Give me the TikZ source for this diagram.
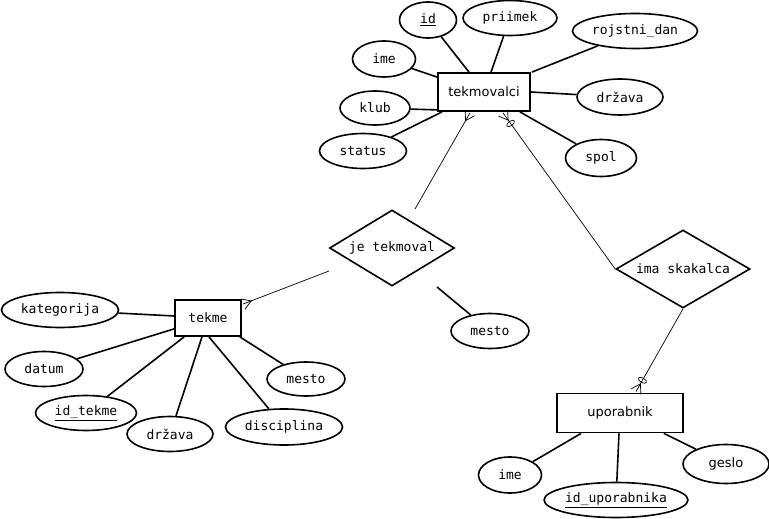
\documentclass[tikz,border=0pt]{standalone}
\usepackage{fontspec}
\setmainfont{DejaVu Sans}
\newfontfamily\monof{DejaVu Sans Mono}
\usetikzlibrary{shapes.geometric,calc}
\newcommand\crowft[2]{\draw[cline] ($(#1)!5.5pt!90:(#2)$) -- ($(#1)!9pt!(#2)$) -- ($(#1)!5.5pt!-90:(#2)$);}
\newcommand\zeroring[2]{\path let \p1=($(#2)-(#1)$), \n1={atan2(\y1,\x1)} in ($(#1)!13pt!(#2)$) node[draw, ellipse, line width=0.7pt, minimum width=4.5pt, minimum height=9pt, rotate=\n1] {};}
\begin{document}
\begin{tikzpicture}[x=1pt,y=-1pt,
  every node/.style={font=\fontsize{13}{15}\selectfont\monof, inner sep=0pt},
  attr/.style={ellipse, draw, line width=1.6pt},
  ent/.style={rectangle, draw, line width=1.8pt},
  rel/.style={diamond, draw, line width=1.6pt, aspect=1.65},
  aline/.style={line width=1.6pt},
  cline/.style={line width=0.7pt}
]
\useasboundingbox (0,0) rectangle (769,519);
% tekmovalci
\node[ent, minimum width=92pt, minimum height=38pt, font=\fontsize{13}{15}\selectfont\rmfamily] (tek) at (484,92) {tekmovalci};
\node[attr, minimum width=57pt, minimum height=36pt] (tid) at (428,20) {\underline{id}};
\node[attr, minimum width=94pt, minimum height=35pt] (tpri) at (510,18) {priimek};
\node[attr, minimum width=125pt, minimum height=35pt] (troj) at (635,31) {rojstni\_dan};
\node[attr, minimum width=63pt, minimum height=36pt] (time) at (384,59) {ime};
\node[attr, minimum width=70pt, minimum height=34pt] (tklub) at (375,108) {klub};
\node[attr, minimum width=87pt, minimum height=35pt] (tstat) at (363,151) {status};
\node[attr, minimum width=86pt, minimum height=36pt] (tdrz) at (620,97) {država};
\node[attr, minimum width=71pt, minimum height=37pt] (tspol) at (601,158) {spol};
\draw[aline] (tid) -- ($(tek.north)+(-15,0)$);
\draw[aline] (tpri) -- ($(tek.north)+(7,0)$);
\draw[aline] (troj) -- ($(tek.north east)+(1,0)$);
\draw[aline] (time) -- ($(tek.north west)+(0,5)$);
\draw[aline] (tklub) -- ($(tek.south west)+(0,-2)$);
\draw[aline] (tstat) -- ($(tek.south west)+(5,0)$);
\draw[aline] (tdrz) -- (tek.east);
\draw[aline] (tspol) -- ($(tek.south east)+(-11,0)$);
% je tekmoval
\node[rel, minimum width=125pt, minimum height=76pt] (jt) at (392,248) {je tekmoval};
\coordinate (jt1) at (415,209);
\coordinate (jt2) at (329,271);
\coordinate (jt3) at (437,287);
\node[attr, minimum width=78pt, minimum height=35pt] (jmesto) at (490,331) {mesto};
\coordinate (e1) at ($(tek.south)+(-14,1)$);
\draw[cline] (jt1) -- (e1);
\crowft{e1}{jt1}
\draw[aline] (jt3) -- (jmesto);
% tekme
\node[ent, minimum width=66pt, minimum height=36pt] (tekme) at (208,318) {tekme};
\coordinate (e2) at ($(tekme.north east)+(1,5)$);
\draw[cline] (jt2) -- (e2);
\crowft{e2}{jt2}
\node[attr, minimum width=117pt, minimum height=35pt] (kat) at (60,310) {kategorija};
\node[attr, minimum width=78pt, minimum height=35pt] (dat) at (44,369) {datum};
\node[attr, minimum width=101pt, minimum height=35pt] (idt) at (86,413) {\underline{id\_tekme}};
\node[attr, minimum width=86pt, minimum height=35pt] (edrz) at (170,434) {država};
\node[attr, minimum width=117pt, minimum height=36pt] (disc) at (284,427) {disciplina};
\node[attr, minimum width=78pt, minimum height=34pt] (emesto) at (306,379) {mesto};
\draw[aline] (kat) -- ($(tekme.west)+(0,-2)$);
\draw[aline] (dat) -- ($(tekme.south west)+(0,-8)$);
\draw[aline] (idt) -- ($(tekme.south west)+(10,0)$);
\draw[aline] (edrz) -- ($(tekme.south)+(-6,0)$);
\draw[aline] (disc) -- ($(tekme.south)+(1,0)$);
\draw[aline] (emesto) -- ($(tekme.south east)+(-2,0)$);
% ima skakalca
\node[rel, minimum width=134pt, minimum height=78pt] (is) at (683,269) {ima skakalca};
\node[ent, minimum width=126pt, minimum height=39pt, font=\fontsize{13}{15}\selectfont\rmfamily] (upo) at (620,413) {uporabnik};
\coordinate (e3) at ($(tek.south)+(19,1)$);
\draw[cline] (is.west) -- (e3);
\crowft{e3}{is.west}
\zeroring{e3}{is.west}
\coordinate (e4) at ($(upo.north)+(16,-1)$);
\draw[cline] (is.south) -- (e4);
\crowft{e4}{is.south}
\zeroring{e4}{is.south}
\node[attr, minimum width=63pt, minimum height=36pt] (uime) at (510,475) {ime};
\node[attr, minimum width=141pt, minimum height=35pt] (uid) at (616,500) {\underline{id\_uporabnika}};
\node[attr, minimum width=86pt, minimum height=39pt, font=\fontsize{13}{15}\selectfont\rmfamily] (uges) at (726,464) {geslo};
\draw[aline] (uime) -- ($(upo.south west)+(25,0)$);
\draw[aline] (uid) -- ($(upo.south)+(-1,0)$);
\draw[aline] (uges) -- ($(upo.south east)+(-20,0)$);
\end{tikzpicture}
\end{document}
